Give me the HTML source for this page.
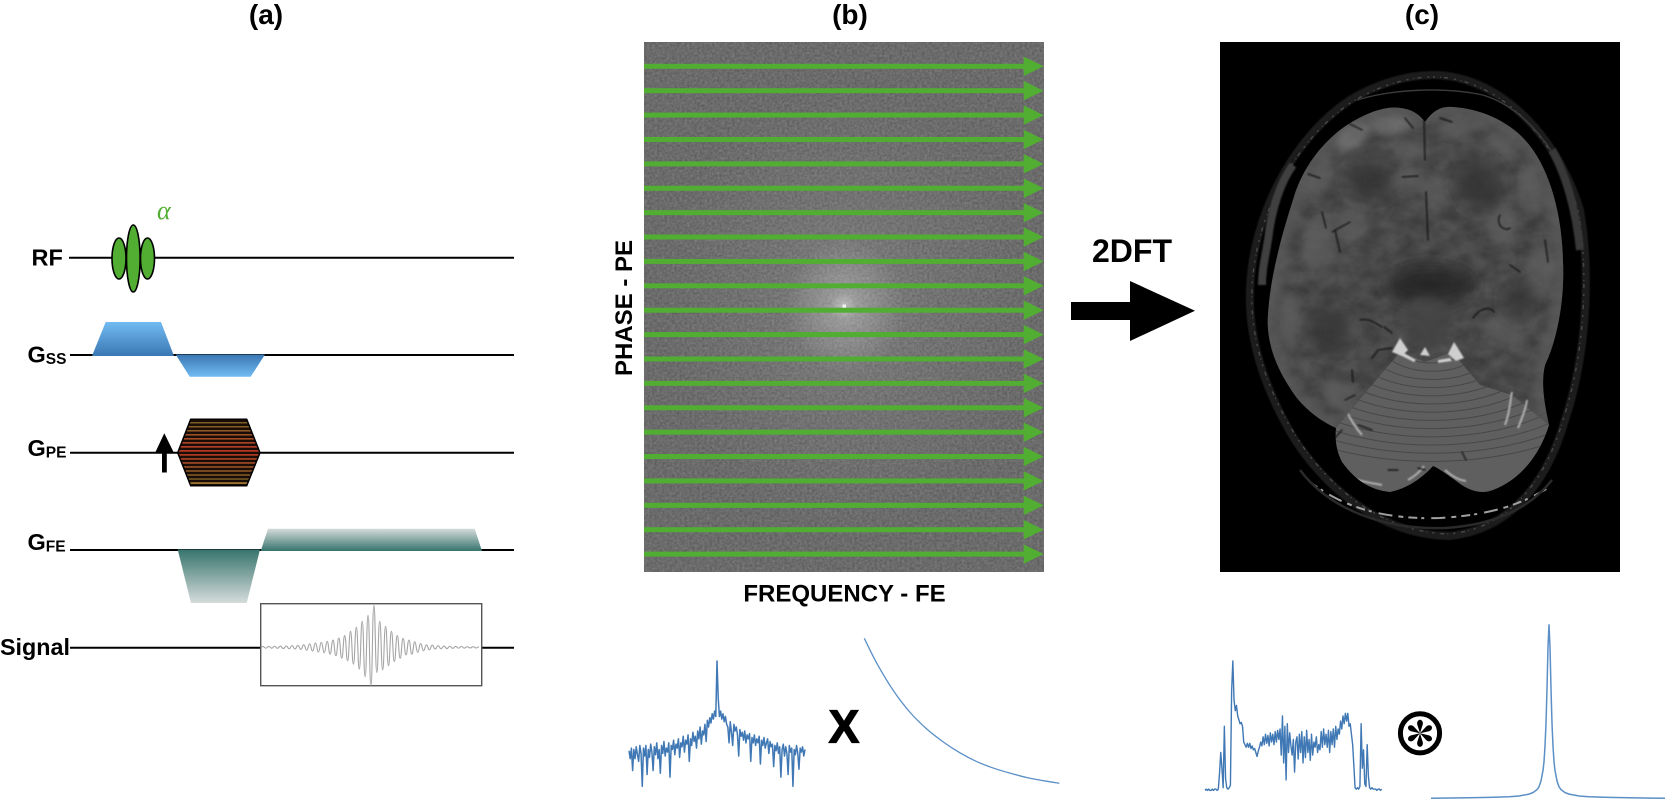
<!DOCTYPE html>
<html lang="en">
<head>
<meta charset="utf-8">
<title>MR acquisition: pulse sequence, k-space and image</title>
<style>
html,body{margin:0;padding:0;background:#fff;}
svg{display:block;}
text{font-family:"Liberation Sans",sans-serif;font-weight:bold;fill:#000;}
</style>
</head>
<body>
<svg id="figure" xmlns="http://www.w3.org/2000/svg" width="1665" height="800" viewBox="0 0 1665 800">
<defs>
  <linearGradient id="ssUp" x1="0" y1="0" x2="0" y2="1"><stop offset="0" stop-color="#72bbf3"/><stop offset="1" stop-color="#3a77b3"/></linearGradient>
  <linearGradient id="ssDown" x1="0" y1="0" x2="0" y2="1"><stop offset="0" stop-color="#3a77b3"/><stop offset="1" stop-color="#72bbf3"/></linearGradient>
  <linearGradient id="feUp" x1="0" y1="0" x2="0" y2="1"><stop offset="0" stop-color="#d6dcdb"/><stop offset="1" stop-color="#36746d"/></linearGradient>
  <linearGradient id="feDown" x1="0" y1="0" x2="0" y2="1"><stop offset="0" stop-color="#36746d"/><stop offset="1" stop-color="#d6dcdb"/></linearGradient>
  <radialGradient id="glowWide"><stop offset="0" stop-color="#fff" stop-opacity=".13"/><stop offset=".5" stop-color="#fff" stop-opacity=".05"/><stop offset="1" stop-color="#fff" stop-opacity="0"/></radialGradient>
  <radialGradient id="glowNear"><stop offset="0" stop-color="#fff" stop-opacity=".28"/><stop offset="1" stop-color="#fff" stop-opacity="0"/></radialGradient>
  <filter id="kNoise" x="0" y="0" width="100%" height="100%" color-interpolation-filters="sRGB">
    <feTurbulence type="fractalNoise" baseFrequency=".4" numOctaves="2" seed="4"/>
    <feColorMatrix type="matrix" values=".18 0 0 0 .33  .18 0 0 0 .33  .18 0 0 0 .33  0 0 0 0 1"/>
  </filter>
  <filter id="brainTexture" x="0" y="0" width="100%" height="100%" color-interpolation-filters="sRGB">
    <feTurbulence type="fractalNoise" baseFrequency=".05 .07" numOctaves="4" seed="9"/>
    <feColorMatrix type="matrix" values="1.1 0 0 0 -.1  1.1 0 0 0 -.1  1.1 0 0 0 -.1  0 0 0 0 1"/>
  </filter>
  <filter id="b1" x="-20%" y="-20%" width="140%" height="140%"><feGaussianBlur stdDeviation=".7"/></filter>
  <filter id="b3" x="-30%" y="-30%" width="160%" height="160%"><feGaussianBlur stdDeviation="4"/></filter>
  <filter id="b7" x="-40%" y="-40%" width="180%" height="180%"><feGaussianBlur stdDeviation="8"/></filter>
  <clipPath id="brainClip"><path d="M1425 122 C1432 112 1440 106 1452 107 C1475 108 1505 118 1525 140 C1548 165 1562 210 1563 262 C1565 305 1555 345 1545 365 C1540 385 1546 410 1549 425 C1540 455 1520 480 1493 490 C1480 495 1467 490 1455 480 C1445 473 1438 468 1433 466 C1425 475 1410 488 1390 492 C1370 490 1355 480 1342 462 C1336 450 1335 440 1336 428 C1318 420 1300 405 1290 388 C1275 365 1266 340 1268 315 C1270 280 1280 240 1293 200 C1300 175 1315 150 1340 130 C1360 115 1385 105 1400 108 C1412 109 1420 115 1425 122 Z"/></clipPath>
  <clipPath id="cerebellumClip"><path d="M1336 428 L1372 385 L1400 352 L1425 362 L1452 352 L1480 385 L1512 395 L1549 425 C1540 455 1520 480 1493 490 C1480 495 1467 490 1455 480 C1445 473 1438 468 1433 466 C1425 475 1410 488 1390 492 C1370 490 1355 480 1342 462 C1336 450 1335 440 1336 428 Z"/></clipPath>
  <clipPath id="hexClip"><polygon points="177.7,452.7 190.7,419.3 246.7,419.3 260,452.7 246.7,485.7 190.7,485.7"/></clipPath>
  <clipPath id="imgClip"><rect x="1220" y="42" width="400" height="530"/></clipPath>
</defs>

<!-- Panel titles -->
<text x="266" y="24" font-size="28" text-anchor="middle">(a)</text>
<text x="850" y="24" font-size="28" text-anchor="middle">(b)</text>
<text x="1422" y="24" font-size="28" text-anchor="middle">(c)</text>

<!-- Pulse sequence -->
<g id="sequence">
  <line x1="69" y1="257.7" x2="514" y2="257.7" stroke="#000" stroke-width="2"/>
  <line x1="70" y1="355" x2="514" y2="355" stroke="#000" stroke-width="2"/>
  <line x1="70" y1="452.7" x2="514" y2="452.7" stroke="#000" stroke-width="2"/>
  <line x1="70" y1="550" x2="514" y2="550" stroke="#000" stroke-width="2"/>
  <line x1="70" y1="647.7" x2="261" y2="647.7" stroke="#000" stroke-width="2"/>
  <line x1="482" y1="647.7" x2="514" y2="647.7" stroke="#000" stroke-width="2"/>

  <text x="31.5" y="265.7" font-size="23.5">RF</text>
  <text x="27.5" y="362.7" font-size="23.5">G<tspan font-size="15.5" dy="1.5">SS</tspan></text>
  <text x="27.5" y="456" font-size="23.5">G<tspan font-size="15.5" dy="1.5">PE</tspan></text>
  <text x="27.5" y="550" font-size="23.5">G<tspan font-size="15.5" dy="1.5">FE</tspan></text>
  <text x="0" y="655" font-size="23.5" textLength="70" lengthAdjust="spacingAndGlyphs">Signal</text>

  <g fill="#52ae32" stroke="#000" stroke-width="1.6">
    <ellipse cx="119" cy="258.5" rx="7" ry="20.5"/>
    <ellipse cx="147.5" cy="258.5" rx="7" ry="20.5"/>
    <ellipse cx="133.3" cy="258.5" rx="6.8" ry="33.5"/>
  </g>
  <text x="157" y="219" font-size="26" style="font-family:'Liberation Serif',serif;font-style:italic;font-weight:normal;fill:#52ae32">α</text>

  <polygon points="92,356 105.7,322 161,322 174,356" fill="url(#ssUp)"/>
  <polygon points="175.7,354.5 265,354.5 250.7,376.7 189.7,376.7" fill="url(#ssDown)"/>

  <g id="hexStripes" clip-path="url(#hexClip)"><rect x="177" y="419" width="84" height="67" fill="#1a0c06"/></g>
  <polygon points="177.7,452.7 190.7,419.3 246.7,419.3 260,452.7 246.7,485.7 190.7,485.7" fill="none" stroke="#000" stroke-width="1.5"/>
  <g>
    <polygon points="164.3,433.3 174,453 155,453" fill="#000"/>
    <rect x="162" y="452" width="4.8" height="20.5" fill="#000"/>
  </g>

  <polygon points="177.7,549.5 260,549.5 246.7,603 191,603" fill="url(#feDown)"/>
  <polygon points="260.7,551 268,528.7 474.7,528.7 482,551" fill="url(#feUp)"/>

  <rect x="260.7" y="603.7" width="221" height="82" fill="#fff" stroke="#555" stroke-width="1.4"/>
  <path id="echoPath" fill="none" stroke="#a4a4a4" stroke-width="1.1"/>
</g>

<!-- k-space -->
<g id="kspace">
  <rect x="644" y="42" width="400" height="530" fill="#6c6c6c" filter="url(#kNoise)"/>
  <ellipse cx="846" cy="306" rx="185" ry="225" fill="url(#glowWide)"/>
  <ellipse cx="845" cy="306" rx="60" ry="68" fill="url(#glowNear)"/>
  <ellipse cx="844" cy="306" rx="14" ry="14" fill="url(#glowNear)"/>
  <rect x="842.5" y="304.5" width="3.5" height="3.5" fill="#f2f2f2"/>
  <g id="kLines"></g>
</g>
<text x="844.5" y="601.7" font-size="24" text-anchor="middle">FREQUENCY - FE</text>
<text transform="translate(632 308) rotate(-90)" font-size="24" text-anchor="middle">PHASE - PE</text>

<!-- 2DFT arrow -->
<text x="1092" y="262" font-size="32">2DFT</text>
<polygon points="1071,302 1130,302 1130,281 1195,310.7 1130,341 1130,320 1071,320" fill="#000"/>

<!-- MR image -->
<g clip-path="url(#imgClip)">
  <rect x="1220" y="42" width="400" height="530" fill="#000"/>
  <g fill="none">
    <path d="M1433 75 C1495 75 1555 130 1580 210 C1592 280 1585 360 1565 420 C1545 490 1505 530 1450 536 C1390 535 1335 500 1295 440 C1265 390 1248 340 1250 290 C1252 220 1290 140 1350 100 C1380 82 1410 75 1433 75 Z" stroke="#1d1d1d" stroke-width="8" filter="url(#b1)"/>
    <path d="M1433 77 C1495 77 1553 132 1578 210 C1590 280 1583 360 1563 420 C1543 488 1505 528 1450 534 C1390 533 1337 498 1297 438 C1267 390 1250 340 1252 290 C1254 220 1292 142 1352 102 C1382 84 1410 77 1433 77 Z" stroke="#484848" stroke-width="1.4" stroke-dasharray="2 5 1 3 4 6"/>
    <path d="M1357 100 C1390 90 1440 86 1483 95 C1515 105 1540 130 1560 165" stroke="#3c3c3c" stroke-width="1.4"/>
    <path d="M1293 165 C1282 180 1272 205 1268 240 C1265 258 1262 270 1262 285" stroke="#3f3f3f" stroke-width="8" filter="url(#b1)"/>
    <path d="M1552 150 C1566 175 1576 210 1580 250" stroke="#383838" stroke-width="8" filter="url(#b1)"/>
    <path d="M1310 482 C1340 505 1380 520 1440 518 C1490 515 1520 505 1548 488" stroke="#a0a0a0" stroke-width="2" stroke-dasharray="9 4 3 7 14 6 5 5"/>
    <path d="M1300 470 C1330 510 1385 530 1445 528 C1495 525 1530 508 1552 480" stroke="#2a2a2a" stroke-width="2.5"/>
  </g>

  <path d="M1425 122 C1432 112 1440 106 1452 107 C1475 108 1505 118 1525 140 C1548 165 1562 210 1563 262 C1565 305 1555 345 1545 365 C1540 385 1546 410 1549 425 C1540 455 1520 480 1493 490 C1480 495 1467 490 1455 480 C1445 473 1438 468 1433 466 C1425 475 1410 488 1390 492 C1370 490 1355 480 1342 462 C1336 450 1335 440 1336 428 C1318 420 1300 405 1290 388 C1275 365 1266 340 1268 315 C1270 280 1280 240 1293 200 C1300 175 1315 150 1340 130 C1360 115 1385 105 1400 108 C1412 109 1420 115 1425 122 Z" fill="#424242"/>

  <g clip-path="url(#brainClip)">
    <path d="M1425 122 C1432 112 1440 106 1452 107 C1475 108 1505 118 1525 140 C1548 165 1562 210 1563 262 C1565 305 1555 345 1545 365 C1540 385 1546 410 1549 425 M1336 428 C1318 420 1300 405 1290 388 C1275 365 1266 340 1268 315 C1270 280 1280 240 1293 200 C1300 175 1315 150 1340 130 C1360 115 1385 105 1400 108 C1412 109 1420 115 1425 122" fill="none" stroke="#5c5c5c" stroke-width="20" filter="url(#b3)"/>
    <g fill="#5e5e5e" filter="url(#b3)">
      <ellipse cx="1352" cy="138" rx="20" ry="11" transform="rotate(-35 1352 138)" fill="#707070"/>
      <ellipse cx="1392" cy="125" rx="20" ry="10" fill="#707070"/>
      <ellipse cx="1408" cy="150" rx="15" ry="11"/>
      <ellipse cx="1460" cy="126" rx="22" ry="10"/>
      <ellipse cx="1500" cy="145" rx="17" ry="10" transform="rotate(35 1500 145)"/>
      <ellipse cx="1320" cy="178" rx="13" ry="19" transform="rotate(25 1320 178)"/>
      <ellipse cx="1408" cy="180" rx="17" ry="12"/>
      <ellipse cx="1435" cy="190" rx="11" ry="18"/>
      <ellipse cx="1530" cy="190" rx="13" ry="24"/>
      <ellipse cx="1320" cy="235" rx="16" ry="20"/>
      <ellipse cx="1352" cy="222" rx="15" ry="16"/>
      <ellipse cx="1500" cy="225" rx="14" ry="20"/>
      <ellipse cx="1540" cy="270" rx="15" ry="26"/>
      <ellipse cx="1320" cy="255" rx="18" ry="14"/>
      <ellipse cx="1290" cy="320" rx="11" ry="28"/>
      <ellipse cx="1345" cy="330" rx="14" ry="12"/>
      <ellipse cx="1340" cy="395" rx="20" ry="14" transform="rotate(35 1340 395)"/>
      <ellipse cx="1505" cy="330" rx="22" ry="13" transform="rotate(25 1505 330)"/>
    </g>
    <g fill="#3a3a3a" filter="url(#b7)">
      <ellipse cx="1370" cy="180" rx="22" ry="20"/>
      <ellipse cx="1480" cy="185" rx="22" ry="24"/>
      <ellipse cx="1330" cy="330" rx="20" ry="24"/>
      <ellipse cx="1520" cy="300" rx="14" ry="18"/>
    </g>
    <ellipse cx="1430" cy="285" rx="44" ry="20" fill="#2c2c2c" filter="url(#b7)"/>
    <ellipse cx="1427" cy="322" rx="24" ry="26" fill="#4a4a4a" filter="url(#b3)"/>
    <rect x="1260" y="100" width="310" height="400" filter="url(#brainTexture)" opacity=".13" style="mix-blend-mode:multiply"/>

    <g clip-path="url(#cerebellumClip)">
      <rect x="1330" y="345" width="225" height="155" fill="#5f5f5f"/>
      <g id="folia" fill="none" stroke="#484848" stroke-width="1"></g>
    </g>

    <g fill="#cfcfcf" filter="url(#b1)">
      <polygon points="1392,352 1400,338 1408,350 1402,356"/>
      <polygon points="1448,354 1454,342 1464,358 1456,361"/>
      <polygon points="1420,355 1425,347 1430,356"/>
      <path d="M1402 352 L1416 360 L1414 362 L1400 355 Z"/>
      <path d="M1438 360 L1450 358 L1452 361 L1438 363 Z"/>
    </g>
    <g fill="none" stroke="#b0b0b0" stroke-width="2" filter="url(#b1)">
      <path d="M1352 478 C1362 482 1372 483 1382 485"/>
      <path d="M1408 480 C1415 476 1420 472 1424 466"/>
      <path d="M1445 470 C1452 476 1458 480 1466 481"/>
      <path d="M1505 425 C1510 412 1510 402 1512 392"/>
      <path d="M1518 428 C1522 418 1526 408 1527 400"/>
      <path d="M1348 414 C1352 422 1356 428 1362 435"/>
    </g>
    <g fill="none" stroke="#101010" stroke-width="1.2" stroke-linecap="round" filter="url(#b1)">
      <path d="M1424 120 L1425 160"/>
      <path d="M1426 192 L1428 240"/>
      <path d="M1402 177 L1418 176"/>
      <path d="M1350 124 L1362 130"/>
      <path d="M1405 118 L1413 128"/>
      <path d="M1440 118 L1452 122"/>
      <path d="M1308 174 L1320 178"/>
      <path d="M1322 212 L1326 228"/>
      <path d="M1332 232 L1350 222"/>
      <path d="M1335 230 L1340 252"/>
      <path d="M1360 320 C1368 318 1374 322 1382 327"/>
      <path d="M1384 327 L1392 333"/>
      <path d="M1352 370 L1353 382"/>
      <path d="M1372 358 L1378 350 L1392 348"/>
      <path d="M1345 400 L1355 395"/>
      <path d="M1473 318 C1480 308 1490 306 1494 312"/>
      <path d="M1510 265 L1520 272"/>
      <path d="M1500 215 C1495 225 1505 232 1510 228"/>
      <path d="M1545 240 L1548 262"/>
      <path d="M1335 438 L1342 430"/>
      <path d="M1358 425 L1372 430"/>
      <path d="M1418 468 L1425 470"/>
      <path d="M1388 470 L1398 470"/>
      <path d="M1462 452 L1466 460"/>
    </g>
  </g>
</g>

<!-- Profiles -->
<path id="lineProfile" fill="none" stroke="#3f78b4" stroke-width="1.5" stroke-linejoin="round"/>
<text x="844" y="742.7" font-size="46" text-anchor="middle" style="stroke:#000;stroke-width:1.2px">X</text>
<path id="decayCurve" fill="none" stroke="#5b8fc6" stroke-width="1.3"/>
<path id="imageProfile" fill="none" stroke="#3f78b4" stroke-width="1.4" stroke-linejoin="round"/>
<g id="convolveSymbol">
  <circle cx="1420" cy="733.3" r="19.6" fill="none" stroke="#000" stroke-width="5"/>
</g>
<path id="psfCurve" fill="none" stroke="#5b8fc6" stroke-width="1.5"/>

<script>
// Gradient echo signal: alternating half-cycle extremes (percent of peak)
var echoExtremes = [-1.5,2,-2,2,-2,2.5,-2.5,3,-3,3,-3.5,4,-4,4.5,-5,6,-7,8,-9,10,-11,12,-13,14,-16,17,-20,22,-26,28,-32,38,-40,48,-52,62,-70,76,-91,100,-60,62,-54,50,-44,38,-34,28,-26,21,-18,17,-16,13,-12,9,-8,6,-6,5,-4,4,-3.5,3,-3,2.5,-2.5,2,-2,2,-2,1.5,-1.5,1.5,-1.5,1];

// Magnitude of a k-space line (percent of peak)
var kspaceLine = [32,26,34,17,33,26,35,29,24,36,30,5,34,28,36,14,33,27,37,31,17,35,29,38,26,33,15,36,30,39,28,34,31,38,12,36,33,40,29,37,34,41,27,38,35,43,31,40,37,44,24,41,36,46,39,43,34,47,41,50,37,47,44,52,39,55,50,57,53,60,56,62,58,100,72,58,62,56,60,54,58,52,50,38,54,46,36,52,47,50,44,28,48,43,46,40,47,38,44,41,45,24,42,38,44,36,41,38,43,22,40,36,42,34,38,41,30,39,35,37,20,36,32,38,30,35,12,33,37,28,35,30,14,36,31,34,5,33,29,36,30,18,34,31,35,28,33];

// Decay envelope: time samples and normalised amplitude
var decayTime = [0,37,87,137,187,237,287,337,387,437,487,537,585];
var decayAmp = [1,0.83,0.64,0.49,0.375,0.285,0.21,0.15,0.105,0.07,0.04,0.018,0];

// Projection through the image (percent of peak)
var imageLine = [1,2,1,2,1,1,2,1,2,2,1,2,14,30,18,3,50,10,3,2,3,5,77,100,70,62,66,58,55,52,53,50,38,36,34,37,34,37,33,35,32,33,30,27,31,34,38,35,42,36,44,37,43,35,45,38,44,36,46,38,47,40,48,28,58,22,50,9,52,30,45,35,28,40,15,38,42,25,44,30,46,22,42,26,47,30,40,24,44,28,38,34,42,30,36,32,46,34,48,36,44,34,47,30,46,36,48,34,50,40,48,44,54,48,58,52,60,54,60,50,52,44,36,20,3,2,3,2,4,52,18,32,6,4,36,12,3,2,3,2,2,2,1,2,2,1,2];

// Point spread function: frequency offsets and normalised amplitude
var psfOffset = [-118,-80,-60,-40,-30,-20,-16,-12,-10,-8,-6,-5,-4,-3,-2,-1,0,1,2,3,4,5,6,8,10,12,16,20,30,40,60,80,116];
var psfAmp = [0,0.003,0.005,0.009,0.013,0.024,0.033,0.05,0.066,0.1,0.16,0.21,0.3,0.43,0.63,0.87,1,0.87,0.63,0.43,0.3,0.21,0.16,0.1,0.066,0.05,0.033,0.024,0.013,0.009,0.005,0.003,0];

// Phase-encode steps in the k-space panel
var readoutIndex = [0,1,2,3,4,5,6,7,8,9,10,11,12,13,14,15,16,17,18,19,20];

var SVGNS = 'http://www.w3.org/2000/svg';
function make(tag, attrs){
  var el = document.createElementNS(SVGNS, tag);
  for (var k in attrs){ el.setAttribute(k, attrs[k]); }
  return el;
}
function polyline(xs, ys){
  var d = '';
  for (var i = 0; i < xs.length; i++){ d += (i ? 'L' : 'M') + xs[i].toFixed(2) + ' ' + ys[i].toFixed(2); }
  return d;
}
function smoothLine(xs, ys){
  var d = 'M' + xs[0].toFixed(2) + ' ' + ys[0].toFixed(2);
  for (var i = 0; i < xs.length - 1; i++){
    var a = Math.max(i - 1, 0), b = Math.min(i + 2, xs.length - 1);
    var c1x = xs[i] + (xs[i + 1] - xs[a]) / 6, c1y = ys[i] + (ys[i + 1] - ys[a]) / 6;
    var c2x = xs[i + 1] - (xs[b] - xs[i]) / 6, c2y = ys[i + 1] - (ys[b] - ys[i]) / 6;
    d += 'C' + c1x.toFixed(2) + ' ' + c1y.toFixed(2) + ' ' + c2x.toFixed(2) + ' ' + c2y.toFixed(2) + ' ' + xs[i + 1].toFixed(2) + ' ' + ys[i + 1].toFixed(2);
  }
  return d;
}

// Axis functions
function echoX(i){ return 260 + i * 2.92; }
function echoY(v){ return 647.3 - v * 0.42; }
function kLineX(i){ return 629 + i * 176 / (kspaceLine.length - 1); }
function kLineY(v){ return 793 - v * 1.32; }
function decayX(t){ return 864.3 + t / 3; }
function decayY(a){ return 783.3 - a * 145; }
function imageX(i){ return 1205 + i * 176.7 / (imageLine.length - 1); }
function imageY(v){ return 791.7 - v * 1.307; }
function psfX(o){ return 1549 + o; }
function psfY(a){ return 798.3 - a * 174; }
function readoutY(i){ return 66.3 + i * 24.39; }

// Echo
var echoD = 'M' + Math.max(261, echoX(0)).toFixed(2) + ' ' + echoY(echoExtremes[0]).toFixed(2);
for (var e = 1; e < echoExtremes.length; e++){
  var x0 = echoX(e - 1), x1 = echoX(e), xm = (x0 + x1) / 2;
  echoD += 'C' + xm.toFixed(2) + ' ' + echoY(echoExtremes[e - 1]).toFixed(2) + ' ' + xm.toFixed(2) + ' ' + echoY(echoExtremes[e]).toFixed(2) + ' ' + x1.toFixed(2) + ' ' + echoY(echoExtremes[e]).toFixed(2);
}
document.getElementById('echoPath').setAttribute('d', echoD);

// Profiles
document.getElementById('lineProfile').setAttribute('d', polyline(kspaceLine.map(function(v, i){ return kLineX(i); }), kspaceLine.map(kLineY)));
document.getElementById('decayCurve').setAttribute('d', smoothLine(decayTime.map(decayX), decayAmp.map(decayY)));
document.getElementById('imageProfile').setAttribute('d', polyline(imageLine.map(function(v, i){ return imageX(i); }), imageLine.map(imageY)));
document.getElementById('psfCurve').setAttribute('d', polyline(psfOffset.map(psfX), psfAmp.map(psfY)));

// Readout arrows
var kLines = document.getElementById('kLines');
readoutIndex.forEach(function(i){
  var y = readoutY(i);
  var line = make('rect', {x: 644, y: y - 2.5, width: 381, height: 5, fill: '#52ae32'});
  
  
  kLines.appendChild(line);
  var head = make('polygon', {points: '1023.7,' + (y - 9.7) + ' 1043.6,' + y + ' 1023.7,' + (y + 9.7), fill: '#52ae32'});
  
  
  kLines.appendChild(head);
});

// Phase encode stripes
var hexStripes = document.getElementById('hexStripes');
var stripeColors = ['#7a5e26','#866028','#945c28','#a25628','#ae5028','#ba4a28','#c44428','#cc3e28','#c44428','#ba4a28','#ae5028','#a25628','#945c28','#866028','#7a5e26','#b98a36'];
stripeColors.forEach(function(color, i){
  var stripe = make('rect', {x: 177, y: 422 + i * 4.02, width: 84, height: 1.5, fill: color});
  
  
  hexStripes.appendChild(stripe);
});

// Convolution asterisk
var convolve = document.getElementById('convolveSymbol');
[0, 60, 120, 180, 240, 300].forEach(function(angle){
  var petal = make('path', {d: 'M1420 733.3 L1417.4 725 A2.9 3.6 0 1 1 1422.6 725 Z', fill: '#000', transform: 'rotate(' + angle + ' 1420 733.3)'});
  
  
  convolve.appendChild(petal);
});

// Cerebellar folia
var folia = document.getElementById('folia');
[22, 32, 42, 52, 62, 72, 82, 92, 102, 112, 122, 132, 142].forEach(function(r){
  var arc = make('ellipse', {cx: 1432, cy: 345, rx: r * 1.55, ry: r * 0.82});
  
  
  folia.appendChild(arc);
});
</script>
</svg>
</body>
</html>
